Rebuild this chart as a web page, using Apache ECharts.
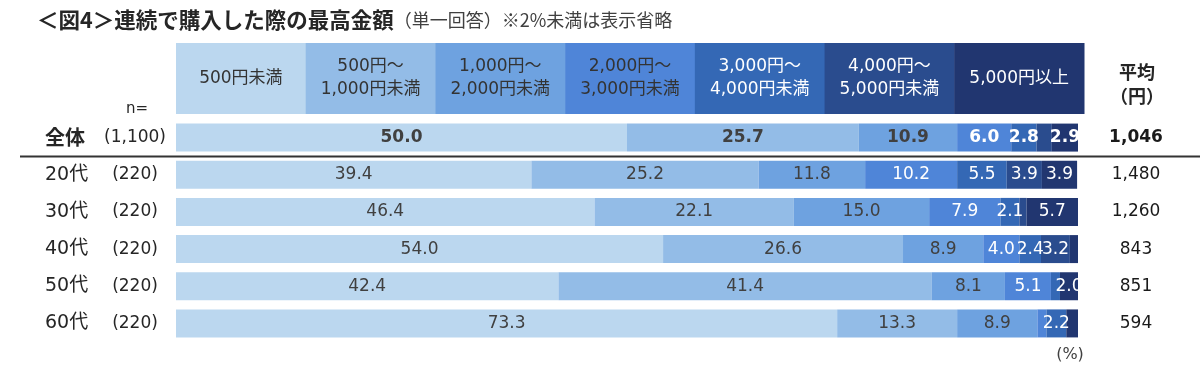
<!DOCTYPE html>
<html>
<head>
<meta charset="utf-8">
<script src="https://cdn.jsdelivr.net/npm/echarts@6/dist/echarts.min.js"></script>
<style>
html,body{margin:0;padding:0;background:#fff;}
#main{width:1200px;height:375px;}
</style>
</head>
<body>
<div id="main"></div>
<script>
// ---- data ----
const rows = ['全体', '20代', '30代', '40代', '50代', '60代'];
const nLabels = ['(1,100)', '(220)', '(220)', '(220)', '(220)', '(220)'];
const averages = ['1,046', '1,480', '1,260', '843', '851', '594'];
const bandNames = ['500円未満', '500円～\n1,000円未満', '1,000円～\n2,000円未満', '2,000円～\n3,000円未満', '3,000円～\n4,000円未満', '4,000円～\n5,000円未満', '5,000円以上'];
const band1 = [50.0, 39.4, 46.4, 54.0, 42.4, 73.3];
const band2 = [25.7, 25.2, 22.1, 26.6, 41.4, 13.3];
const band3 = [10.9, 11.8, 15.0, 8.9, 8.1, 8.9];
const band4 = [6.0, 10.2, 7.9, 4.0, 5.1, 1.0];
const band5 = [2.8, 5.5, 2.1, 2.4, 1.0, 2.2];
const band6 = [1.7, 3.9, 0.8, 3.2, 0.0, 0.0];
const band7 = [2.9, 3.9, 5.7, 0.9, 2.0, 1.3];
const bands = [band1, band2, band3, band4, band5, band6, band7];

// ---- style ----
const FONT = '"DejaVu Sans", "Noto Sans CJK JP", sans-serif';
const JFONT = '"Noto Sans CJK JP", "DejaVu Sans", sans-serif';
const colors = ['#BBD7EF', '#93BCE7', '#6EA2E0', '#4F85D8', '#3468B5', '#2A4C8E', '#213670'];
const labelColors = ['#404040', '#404040', '#404040', '#ffffff', '#ffffff', '#ffffff', '#ffffff'];
const headerTextColors = ['#333333', '#333333', '#333333', '#333333', '#ffffff', '#ffffff', '#ffffff'];

const gridLeft = 176, gridRight = 122, gridTop = 119, gridHeight = 223;

const chart = echarts.init(document.getElementById('main'));

const series = bands.map((vals, bi) => ({
  name: bandNames[bi],
  type: 'bar',
  stack: 'total',
  barWidth: 28,
  itemStyle: { color: colors[bi] },
  label: {
    show: true,
    position: 'inside',
    color: labelColors[bi],
    fontFamily: FONT,
    fontSize: 17,
    formatter: p => (p.value < 2 ? '' : p.value.toFixed(1))
  },
  data: vals.map((v, i) => ({
    value: v,
    label: i === 0 ? { fontWeight: 'bold' } : {}
  }))
}));

// header boxes
const headerLeft = 176, headerWidth = 908, headerTop = 43, headerH = 71;
const cellW = headerWidth / bandNames.length;
const graphics = [];
bandNames.forEach((name, i) => {
  graphics.push({
    type: 'rect',
    left: headerLeft + i * cellW, top: headerTop,
    shape: { width: cellW + 0.5, height: headerH },
    style: { fill: colors[i] },
    silent: true
  });
  graphics.push({
    type: 'text',
    x: headerLeft + i * cellW + cellW / 2, y: headerTop + headerH / 2,
    style: {
      text: name, fill: headerTextColors[i], font: '17px ' + FONT,
      align: 'center', verticalAlign: 'middle', lineHeight: 23
    },
    silent: true
  });
});
graphics.push({
  type: 'text', x: 37, y: 20,
  style: {
    text: '{t|＜図4＞連続で購入した際の最高金額}{s|（単一回答）※2%未満は表示省略}',
    verticalAlign: 'middle',
    rich: {
      t: { fontFamily: JFONT, fontSize: 21.5, fontWeight: 'bold', fill: '#262626', color: '#262626' },
      s: { fontFamily: JFONT, fontSize: 18, fill: '#404040', color: '#404040' }
    }
  }
});
graphics.push({
  type: 'text', x: 137, y: 109,
  style: { text: 'n=', font: '15px ' + FONT, fill: '#262626', align: 'center', verticalAlign: 'middle' }
});
graphics.push({
  type: 'text', x: 1137, y: 84,
  style: { text: '平均\n（円）', font: 'bold 18px ' + JFONT, fill: '#262626', align: 'center', verticalAlign: 'middle', lineHeight: 24 }
});
graphics.push({
  type: 'line', shape: { x1: 20, y1: 156.5, x2: 1200, y2: 156.5 },
  style: { stroke: '#333333', lineWidth: 2 }
});
graphics.push({
  type: 'text', x: 1070, y: 355,
  style: { text: '(%)', font: '16px ' + FONT, fill: '#404040', align: 'center', verticalAlign: 'middle' }
});

const option = {
  animation: false,
  backgroundColor: '#ffffff',
  grid: { left: gridLeft, right: gridRight, top: gridTop, height: gridHeight },
  xAxis: { type: 'value', min: 0, max: 100, show: false },
  yAxis: [
    {
      type: 'category', data: rows, inverse: true,
      axisLine: { show: false }, axisTick: { show: false }, splitLine: { show: false },
      axisLabel: {
        margin: 4,
        formatter: (v, i) => i === 0 ? '{ab|' + v + '}{nb|' + nLabels[i] + '}' : '{a|' + v + '}{n|' + nLabels[i] + '}',
        rich: {
          a: { width: 53, align: 'left', fontFamily: FONT, fontSize: 19, color: '#262626' },
          ab: { width: 53, align: 'left', fontFamily: JFONT, fontSize: 20, fontWeight: 'bold', color: '#262626' },
          n: { width: 74, align: 'center', fontFamily: FONT, fontSize: 17, color: '#262626' },
          nb: { width: 74, align: 'center', fontFamily: FONT, fontSize: 17, color: '#262626' }
        }
      }
    },
    {
      type: 'category', data: rows, inverse: true, position: 'right',
      axisLine: { show: false }, axisTick: { show: false }, splitLine: { show: false },
      axisLabel: {
        margin: 58, align: 'center',
        formatter: (v, i) => i === 0 ? '{b|' + averages[i] + '}' : '{r|' + averages[i] + '}',
        rich: {
          b: { fontFamily: FONT, fontSize: 17, fontWeight: 'bold', color: '#1a1a1a' },
          r: { fontFamily: FONT, fontSize: 17, color: '#1a1a1a' }
        }
      }
    }
  ],
  series: series,
  graphic: graphics
};
chart.setOption(option);
</script>
</body>
</html>
